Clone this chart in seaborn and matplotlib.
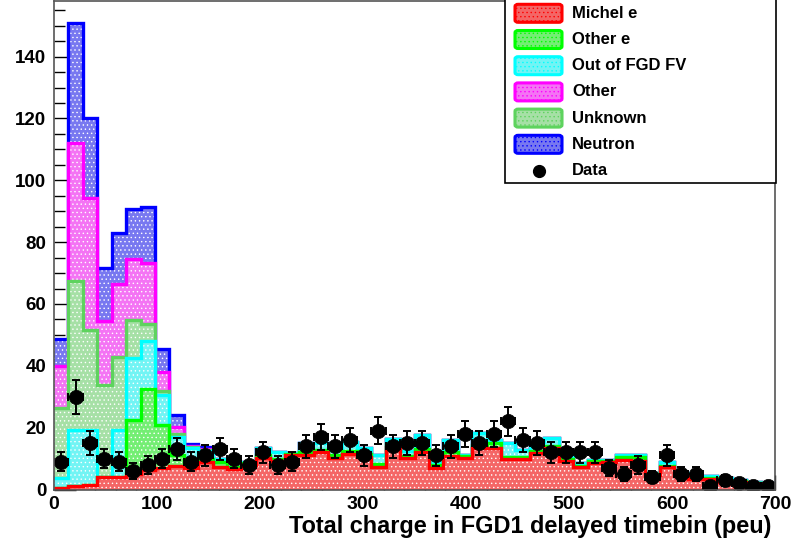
import numpy as np
import pandas as pd
import matplotlib
matplotlib.use("Agg")
import matplotlib.pyplot as plt
import seaborn as sns
from matplotlib.patches import Rectangle, FancyBboxPatch
from matplotlib.lines import Line2D
from matplotlib.ticker import MultipleLocator

# ---------------- data ----------------
bin_edges = list(range(0, 701, 14))          # 50 bins, 14 peu wide

michel_e = [0.5, 1.0, 1.5, 3.9, 3.9, 5.0, 6.3, 7.0, 7.5, 7.0,
            9.0, 7.4, 6.6, 7.9, 10.1, 9.2, 11.2, 11.2, 12.0, 10.3,
            11.4, 10.6, 7.4, 13.9, 10.1, 12.2, 6.9, 10.9, 10.1, 13.5,
            13.3, 9.9, 9.9, 11.7, 13.3, 9.2, 7.2, 8.7, 9.0, 9.5,
            9.3, 4.7, 7.2, 4.7, 3.3, 3.3, 2.5, 2.5, 2.0, 1.5]
other_e = [0.0, 0.0, 0.0, 0.0, 0.3, 17.5, 26.1, 13.8, 3.5, 2.0,
           0.8, 1.6, 0.8, 0.6, 0.9, 0.8, 0.3, 0.8, 0.8, 0.7,
           1.1, 0.9, 0.8, 0.8, 0.7, 0.8, 1.0, 1.1, 0.7, 0.8,
           1.6, 0.7, 0.7, 0.7, 0.9, 0.6, 0.5, 0.5, 0.2, 1.0,
           1.2, 0.3, 0.4, 0.3, 0.4, 0.3, 0.3, 0.2, 0.2, 0.2]
out_of_fgd_fv = [3.1, 18.3, 17.8, 0.1, 15.1, 20.1, 15.6, 9.8, 6.0, 4.5,
                 2.8, 0.8, 1.4, 0.5, 2.3, 2.2, 0.4, 3.0, 2.2, 1.8,
                 3.0, 1.8, 3.0, 1.7, 1.7, 4.6, 1.1, 4.0, 0.4, 3.9,
                 1.1, 4.4, 2.1, 3.1, 2.4, 1.4, 0.8, 0.3, 0.3, 0.7,
                 0.7, 0.2, 1.4, 0.2, 0.6, 0.7, 0.8, 0.3, 0.3, 0.3]
unknown = [22.7, 48.0, 32.3, 29.8, 23.7, 12.3, 5.5, 1.4, 0.8, 0.3,
           0.2] + [0.0] * 39
other = [13.7, 44.9, 42.8, 20.7, 23.5, 19.6, 19.7, 6.0, 2.5, 0.4,
         0.3] + [0.0] * 39
neutron = [8.6, 38.7, 25.7, 17.1, 16.5, 16.3, 18.3, 7.5, 3.8, 0.6,
           0.5] + [0.0] * 39

data_counts = [9, 30, 15, 10, 9, 6, 8, 10, 13, 9,
               11, 13, 10, 8, 12, 8, 9, 14, 17, 14,
               16, 11, 19, 14, 15, 15, 11, 14, 18, 15,
               18, 22, 16, 15, 12, 12, 12, 12, 7, 5,
               8, 4, 11, 5, 5, 1, 3, 2, 1, 1]

legend_labels = ["Michel e", "Other e", "Out of FGD FV", "Other", "Unknown", "Neutron"]
x_ticks = [0, 100, 200, 300, 400, 500, 600, 700]
y_ticks = [0, 20, 40, 60, 80, 100, 120, 140]
x_title = "Total charge in FGD1 delayed timebin (peu)"

line_colors = {"Michel e": "#ff0000", "Other e": "#00ff00", "Out of FGD FV": "#00ffff",
               "Other": "#ff00ff", "Unknown": "#5ed35e", "Neutron": "#0000ff"}
fill_colors = {"Michel e": "#f46666", "Other e": "#74ee74", "Out of FGD FV": "#72f4f4",
               "Other": "#f474f4", "Unknown": "#a6e0a6", "Neutron": "#7878f0"}

# ---------------- figure ----------------
sns.set_theme(style="white")
plt.rcParams['font.family'] = ['Liberation Sans', 'DejaVu Sans']
plt.rcParams['font.weight'] = 'bold'
plt.rcParams['hatch.linewidth'] = 0.5

W, H = 794, 550
fig = plt.figure(figsize=(W / 100, H / 100), dpi=100)
fig.patch.set_facecolor("white")


def fx(px):
    return px / W


def fy(py):
    return 1 - py / H


ax = fig.add_axes([fx(54), fy(489.5), fx(775) - fx(54), fy(1) - fy(489.5)])
ax.set_facecolor("white")

edges = np.array(bin_edges, dtype=float)
centers = (edges[:-1] + edges[1:]) / 2

# stacking order bottom -> top, as drawn in the reference
stack = [("Michel e", michel_e), ("Other e", other_e), ("Out of FGD FV", out_of_fgd_fv),
         ("Unknown", unknown), ("Other", other), ("Neutron", neutron)]
long = pd.DataFrame({
    "charge": np.tile(centers, len(stack)),
    "count": np.concatenate([np.asarray(v, float) for _, v in stack]),
    "component": np.repeat([n for n, _ in stack], len(centers)),
})
wide = long.pivot(index="charge", columns="component", values="count")[[n for n, _ in stack]]
cum = wide.cumsum(axis=1)

# draw from the top of the stack downwards (THStack style)
for i, (name, _) in enumerate(reversed(stack)):
    z = 2 + i
    layer = pd.DataFrame({"charge": centers, "w": cum[name].values})
    sns.histplot(data=layer, x="charge", weights="w", bins=list(bin_edges), element="step",
                 fill=True, color=fill_colors[name], alpha=1.0, linewidth=0,
                 ax=ax, zorder=z)
    ax.fill_between(edges, 0, np.append(cum[name].values, cum[name].values[-1]),
                    step="post", facecolor="none", edgecolor="white", hatch="....",
                    linewidth=0, zorder=z + 0.1)
    ax.stairs(cum[name].values, edges, color=line_colors[name], linewidth=2.4,
              baseline=None, zorder=z + 0.2)

# data points
d = np.asarray(data_counts, float)
ax.errorbar(centers, d, yerr=np.sqrt(d), xerr=7, fmt="none", ecolor="black",
            elinewidth=1.4, capsize=3.2, capthick=1.4, zorder=20)
sns.scatterplot(x=centers, y=d, color="black", s=105, marker="o", edgecolor="black",
                linewidth=0.5, ax=ax, zorder=21, legend=False)

ax.set_xlim(0, 700)
ax.set_ylim(0, 158)
ax.set_xlabel("")
ax.set_ylabel("")
ax.set_xticks(x_ticks)
ax.set_yticks(y_ticks)
ax.xaxis.set_minor_locator(MultipleLocator(20))
ax.yaxis.set_minor_locator(MultipleLocator(5))
ax.tick_params(axis="x", which="major", direction="in", length=10.5, width=1.0,
               color="black", labelsize=14, pad=5.0)
ax.tick_params(axis="x", which="minor", direction="in", length=5.2, width=1.0, color="black")
ax.tick_params(axis="y", which="major", direction="in", length=15.6, width=1.0,
               color="black", labelsize=13.5, pad=5.5)
ax.tick_params(axis="y", which="minor", direction="in", length=7.8, width=1.0, color="black")
ax.tick_params(which="both", bottom=True, left=True, top=False, right=False)
for lab in ax.get_xticklabels() + ax.get_yticklabels():
    lab.set_fontweight("bold")
    lab.set_color("black")
for s in ax.spines.values():
    s.set_visible(True)
    s.set_color("#555555")
    s.set_linewidth(1.2)
    s.set_zorder(30)

fig.text(fx(771), fy(527), x_title, ha="right", va="center", fontsize=16.9,
         fontweight="bold", color="black")

# ---------------- legend (ROOT TLegend style) ----------------
box = Rectangle((fx(505), fy(183)), fx(776) - fx(505), fy(-2) - fy(183),
                transform=fig.transFigure, facecolor="white", edgecolor="black",
                linewidth=1.2, zorder=40)
fig.add_artist(box)
row_y = [13.3 + 26.2 * i for i in range(7)]
for i, name in enumerate(legend_labels):
    yc = row_y[i]
    sw = FancyBboxPatch((fx(515), fy(yc + 9)), fx(562) - fx(515), fy(yc - 9) - fy(yc + 9),
                        boxstyle="round,pad=0.0,rounding_size=0.004",
                        transform=fig.transFigure, facecolor=fill_colors[name],
                        edgecolor=line_colors[name], linewidth=2.2, zorder=41,
                        hatch="....")
    fig.add_artist(sw)
    fig.text(fx(572), fy(yc), name, ha="left", va="center", fontsize=12,
             fontweight="bold", color="black", zorder=42)
fig.add_artist(Line2D([fx(539)], [fy(row_y[6])], marker="o", markersize=8.5,
                      color="black", transform=fig.transFigure, zorder=42))
fig.text(fx(572), fy(row_y[6]), "Data", ha="left", va="center", fontsize=12,
         fontweight="bold", color="black", zorder=42)

fig.savefig("out.png", dpi=100, facecolor="white")
